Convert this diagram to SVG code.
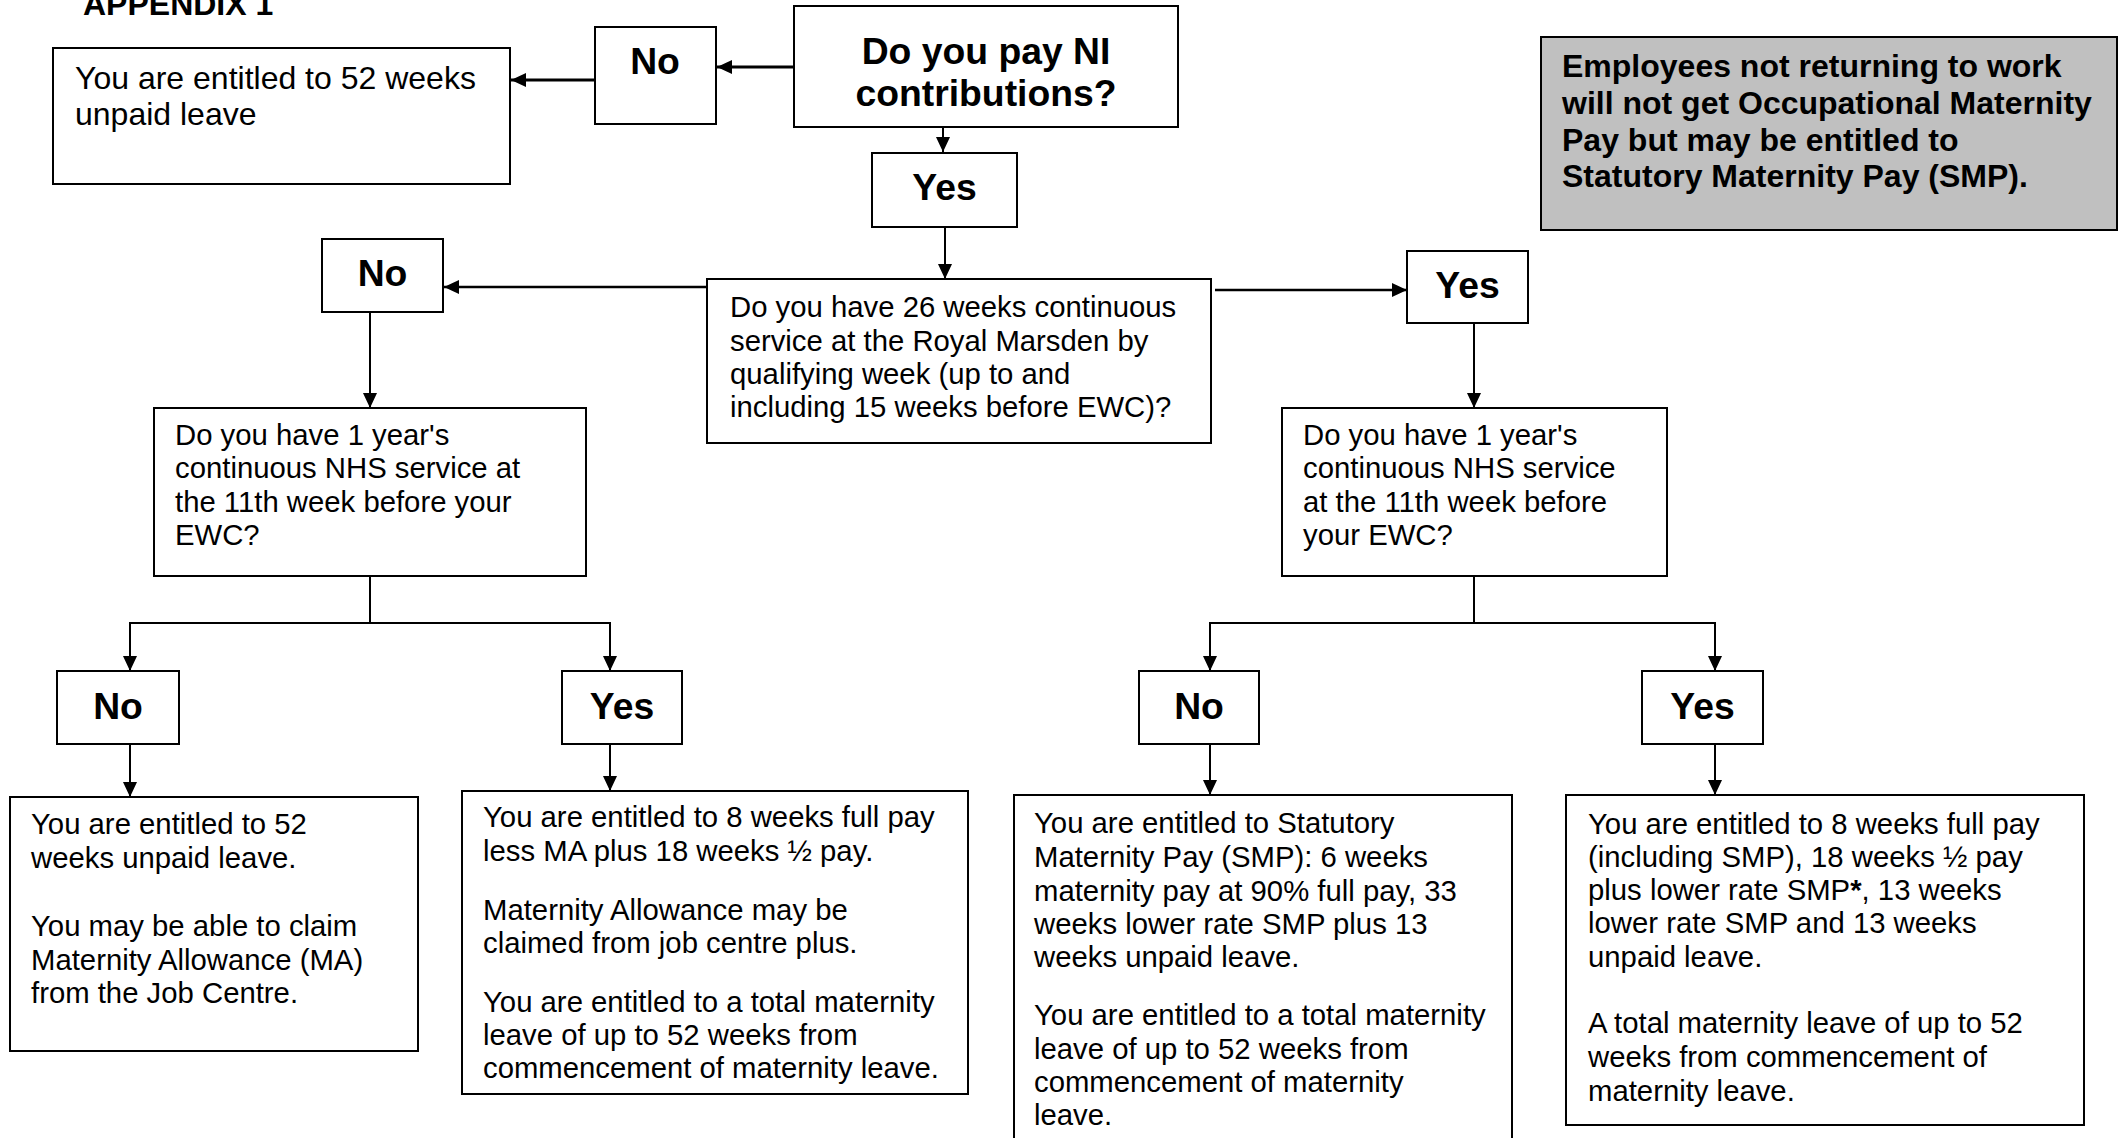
<svg xmlns="http://www.w3.org/2000/svg" width="2127" height="1138" viewBox="0 0 2127 1138">
<defs>
<style>
.box{fill:#fff;stroke:#000;stroke-width:2}
.grey{fill:#c0c0c0;stroke:#000;stroke-width:2}
.t{font-family:"Liberation Sans",Arial,sans-serif;font-size:29.3px;fill:#000}
.t12{font-family:"Liberation Sans",Arial,sans-serif;font-size:32px;fill:#000}
.b12{font-family:"Liberation Sans",Arial,sans-serif;font-size:32px;font-weight:bold;fill:#000}
.lbl{font-family:"Liberation Sans",Arial,sans-serif;font-size:37.3px;font-weight:bold;fill:#000;text-anchor:middle}
.c{fill:none;stroke:#000;stroke-width:2}
.ck{fill:none;stroke:#000;stroke-width:3}
.a{marker-end:url(#ah)}
</style>
<marker id="ah" markerUnits="userSpaceOnUse" markerWidth="16" markerHeight="14" refX="15" refY="7" orient="auto">
<path d="M0,0 L15,7 L0,14 z" fill="#000"/>
</marker>
</defs>
<rect width="2127" height="1138" fill="#fff"/>

<text id="title" class="b12" x="83" y="15">APPENDIX 1</text>

<g id="connectors">
<path class="ck a" d="M794,67 H717"/>
<path class="ck a" d="M595,80 H511"/>
<path class="c a" d="M943,127 V152"/>
<path class="c a" d="M945,227 V279"/>
<path class="c a" d="M707,287 H444" style="stroke-width:2.5"/>
<path class="c a" d="M1215,290 H1407" style="stroke-width:2.5"/>
<path class="c a" d="M370,312 V408"/>
<path class="c a" d="M1474,323 V408"/>
<path class="c" d="M370,576 V623"/>
<path class="c" d="M129,623 H611"/>
<path class="c a" d="M130,623 V671"/>
<path class="c a" d="M610,623 V671"/>
<path class="c a" d="M130,744 V797"/>
<path class="c a" d="M610,744 V791"/>
<path class="c" d="M1474,576 V623"/>
<path class="c" d="M1209,623 H1716"/>
<path class="c a" d="M1210,623 V671"/>
<path class="c a" d="M1715,623 V671"/>
<path class="c a" d="M1210,744 V795"/>
<path class="c a" d="M1715,744 V795"/>
</g>

<g id="q-ni">
<rect class="box" x="794" y="6" width="384" height="121"/>
<text class="lbl" x="986" y="64">Do you pay NI</text>
<text class="lbl" x="986" y="106">contributions?</text>
</g>

<g id="no-top">
<rect class="box" x="595" y="27" width="121" height="97"/>
<text class="lbl" x="655" y="74">No</text>
</g>

<g id="unpaid-top">
<rect class="box" x="53" y="48" width="457" height="136"/>
<text class="t12" x="75" y="89">You are entitled to 52 weeks</text>
<text class="t12" x="75" y="125">unpaid leave</text>
</g>

<g id="note">
<rect class="grey" x="1541" y="37" width="576" height="193"/>
<text class="b12" x="1562" y="77">Employees not returning to work</text>
<text class="b12" x="1562" y="114">will not get Occupational Maternity</text>
<text class="b12" x="1562" y="151">Pay but may be entitled to</text>
<text class="b12" x="1562" y="187">Statutory Maternity Pay (SMP).</text>
</g>

<g id="yes-top">
<rect class="box" x="872" y="153" width="145" height="74"/>
<text class="lbl" x="944.5" y="200">Yes</text>
</g>

<g id="q-26weeks">
<rect class="box" x="707" y="279" width="504" height="164"/>
<text class="t" x="730" y="317">Do you have 26 weeks continuous</text>
<text class="t" x="730" y="351">service at the Royal Marsden by</text>
<text class="t" x="730" y="384">qualifying week (up to and</text>
<text class="t" x="730" y="417">including 15 weeks before EWC)?</text>
</g>

<g id="no-mid">
<rect class="box" x="322" y="239" width="121" height="73"/>
<text class="lbl" x="382.5" y="286">No</text>
</g>

<g id="yes-mid">
<rect class="box" x="1407" y="251" width="121" height="72"/>
<text class="lbl" x="1467.5" y="298">Yes</text>
</g>

<g id="q-nhs-left">
<rect class="box" x="154" y="408" width="432" height="168"/>
<text class="t" x="175" y="445">Do you have 1 year's</text>
<text class="t" x="175" y="478">continuous NHS service at</text>
<text class="t" x="175" y="512">the 11th week before your</text>
<text class="t" x="175" y="545">EWC?</text>
</g>

<g id="q-nhs-right">
<rect class="box" x="1282" y="408" width="385" height="168"/>
<text class="t" x="1303" y="445">Do you have 1 year's</text>
<text class="t" x="1303" y="478">continuous NHS service</text>
<text class="t" x="1303" y="512">at the 11th week before</text>
<text class="t" x="1303" y="545">your EWC?</text>
</g>

<g id="no-left">
<rect class="box" x="57" y="671" width="122" height="73"/>
<text class="lbl" x="118" y="719">No</text>
</g>

<g id="yes-left">
<rect class="box" x="562" y="671" width="120" height="73"/>
<text class="lbl" x="622" y="719">Yes</text>
</g>

<g id="no-right">
<rect class="box" x="1139" y="671" width="120" height="73"/>
<text class="lbl" x="1199" y="719">No</text>
</g>

<g id="yes-right">
<rect class="box" x="1642" y="671" width="121" height="73"/>
<text class="lbl" x="1702.5" y="719">Yes</text>
</g>

<g id="out-1">
<rect class="box" x="10" y="797" width="408" height="254"/>
<text class="t" x="31" y="834">You are entitled to 52</text>
<text class="t" x="31" y="868">weeks unpaid leave.</text>
<text class="t" x="31" y="936">You may be able to claim</text>
<text class="t" x="31" y="970">Maternity Allowance (MA)</text>
<text class="t" x="31" y="1003">from the Job Centre.</text>
</g>

<g id="out-2">
<rect class="box" x="462" y="791" width="506" height="303"/>
<text class="t" x="483" y="827">You are entitled to 8 weeks full pay</text>
<text class="t" x="483" y="861">less MA plus 18 weeks ½ pay.</text>
<text class="t" x="483" y="920">Maternity Allowance may be</text>
<text class="t" x="483" y="953">claimed from job centre plus.</text>
<text class="t" x="483" y="1012">You are entitled to a total maternity</text>
<text class="t" x="483" y="1045">leave of up to 52 weeks from</text>
<text class="t" x="483" y="1078">commencement of maternity leave.</text>
</g>

<g id="out-3">
<rect class="box" x="1014" y="795" width="498" height="360"/>
<text class="t" x="1034" y="833">You are entitled to Statutory</text>
<text class="t" x="1034" y="867">Maternity Pay (SMP): 6 weeks</text>
<text class="t" x="1034" y="901">maternity pay at 90% full pay, 33</text>
<text class="t" x="1034" y="934">weeks lower rate SMP plus 13</text>
<text class="t" x="1034" y="967">weeks unpaid leave.</text>
<text class="t" x="1034" y="1025">You are entitled to a total maternity</text>
<text class="t" x="1034" y="1059">leave of up to 52 weeks from</text>
<text class="t" x="1034" y="1092">commencement of maternity</text>
<text class="t" x="1034" y="1125">leave.</text>
</g>

<g id="out-4">
<rect class="box" x="1566" y="795" width="518" height="330"/>
<text class="t" x="1588" y="834">You are entitled to 8 weeks full pay</text>
<text class="t" x="1588" y="867">(including SMP), 18 weeks ½ pay</text>
<text class="t" x="1588" y="900">plus lower rate SMP<tspan font-weight="bold">*</tspan>, 13 weeks</text>
<text class="t" x="1588" y="933">lower rate SMP and 13 weeks</text>
<text class="t" x="1588" y="967">unpaid leave.</text>
<text class="t" x="1588" y="1033">A total maternity leave of up to 52</text>
<text class="t" x="1588" y="1067">weeks from commencement of</text>
<text class="t" x="1588" y="1101">maternity leave.</text>
</g>
</svg>
